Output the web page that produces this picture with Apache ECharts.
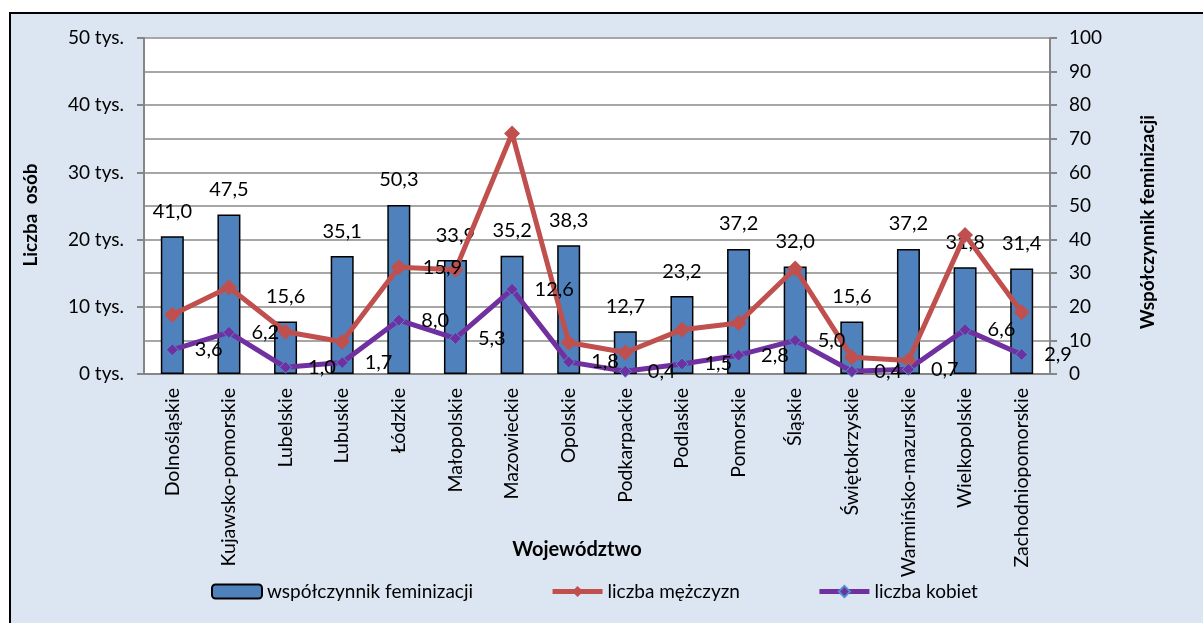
<!DOCTYPE html>
<html>
<head>
<meta charset="utf-8">
<script src="https://cdn.jsdelivr.net/npm/echarts@6/dist/echarts.min.js"></script>
<style>
  html, body { margin: 0; padding: 0; background: #fff; }
  #chart { width: 1203px; height: 623px; }
</style>
</head>
<body>
<div id="chart"></div>
<script>
const regions = ['Dolnośląskie', 'Kujawsko-pomorskie', 'Lubelskie', 'Lubuskie', 'Łódzkie', 'Małopolskie',
  'Mazowieckie', 'Opolskie', 'Podkarpackie', 'Podlaskie', 'Pomorskie', 'Śląskie', 'Świętokrzyskie',
  'Warmińsko-mazurskie', 'Wielkopolskie', 'Zachodniopomorskie']
// współczynnik feminizacji (prawa oś)
const feminization = [41.0, 47.5, 15.6, 35.1, 50.3, 33.9, 35.2, 38.3, 12.7, 23.2, 37.2, 32.0, 15.6, 37.2, 31.8, 31.4]
// liczba mężczyzn, tys.
const men = [8.8, 12.9, 6.3, 4.8, 15.9, 15.5, 35.8, 4.7, 3.2, 6.6, 7.6, 15.7, 2.5, 2.0, 20.7, 9.2]
// liczba kobiet, tys.
const women = [3.6, 6.2, 1.0, 1.7, 8.0, 5.3, 12.6, 1.8, 0.4, 1.5, 2.8, 5.0, 0.4, 0.7, 6.6, 2.9]
const menLabelAt = ['Łódzkie']

const font = 'Lato, "Open Sans", sans-serif'
const fmt = v => v.toFixed(1).replace('.', ',')

const chart = echarts.init(document.getElementById('chart'))
const option = {
  backgroundColor: '#fff',
  textStyle: { fontFamily: font, color: '#000' },
  graphic: [{
    type: 'rect',
    left: 9, top: 12,
    shape: { width: 1220, height: 640 },
    style: { fill: '#DCE6F2', stroke: '#000', lineWidth: 2 },
    z: -10
  }, {
    type: 'rect',
    left: 144, top: 38,
    shape: { width: 906, height: 336 },
    style: { fill: '#fff' },
    z: -9
  }],
  grid: {
    left: 144,
    right: 153,
    top: 38,
    bottom: 249
  },
  legend: {
    top: 577,
    left: 206,
    itemWidth: 50,
    itemHeight: 14,
    itemGap: 77,
    lineStyle: { width: 5 },
    textStyle: { fontSize: 19, fontFamily: font, color: '#000' },
    data: ['współczynnik feminizacji', 'liczba mężczyzn', 'liczba kobiet']
  },
  xAxis: {
    type: 'category',
    data: regions,
    name: 'Województwo',
    nameLocation: 'middle',
    nameGap: 166,
    nameMoveOverlap: false,
    nameTextStyle: { fontWeight: 'bold', fontSize: 20, fontFamily: font, color: '#000', padding: [0, 40, 0, 0] },
    axisLine: { lineStyle: { color: '#868686', width: 2 } },
    axisTick: { length: 6, lineStyle: { color: '#868686', width: 2 } },
    axisLabel: { rotate: 90, margin: 14, fontSize: 19.5, fontFamily: font, color: '#000', interval: 0 }
  },
  yAxis: [{
    type: 'value',
    min: 0,
    max: 50,
    interval: 10,
    name: 'Liczba  osób',
    nameLocation: 'middle',
    nameGap: 104,
    nameRotate: 90,
    nameMoveOverlap: false,
    nameTextStyle: { fontWeight: 'bold', fontSize: 19, fontFamily: font, color: '#000', padding: [0, 18, 0, 0] },
    axisLine: { show: true, lineStyle: { color: '#868686', width: 2 } },
    axisTick: { show: true, length: 7, lineStyle: { color: '#868686', width: 2 } },
    axisLabel: { formatter: '{value} tys.', margin: 20, fontSize: 19, fontFamily: font, color: '#000' },
    splitLine: { show: false }
  }, {
    type: 'value',
    min: 0,
    max: 100,
    interval: 10,
    name: 'Współczynnik feminizacji',
    nameLocation: 'middle',
    nameGap: 88,
    nameRotate: 90,
    nameMoveOverlap: false,
    nameTextStyle: { fontWeight: 'bold', fontSize: 19, fontFamily: font, color: '#000', padding: [0, 32, 0, 0] },
    axisLine: { show: true, lineStyle: { color: '#868686', width: 2 } },
    axisTick: { show: true, length: 7, lineStyle: { color: '#868686', width: 2 } },
    axisLabel: { margin: 19, fontSize: 19, fontFamily: font, color: '#000' },
    splitLine: { show: true, lineStyle: { color: '#A6A6A6', width: 2 } }
  }],
  series: [{
    name: 'współczynnik feminizacji',
    type: 'bar',
    yAxisIndex: 1,
    barWidth: 23,
    itemStyle: { color: '#4F81BD', borderColor: '#000', borderWidth: 1.5 },
    label: {
      show: true,
      position: 'top',
      distance: 15,
      fontSize: 20,
      fontFamily: font,
      color: '#000',
      formatter: p => fmt(p.value)
    },
    data: feminization
  }, {
    name: 'liczba mężczyzn',
    type: 'line',
    yAxisIndex: 0,
    symbol: 'diamond',
    symbolSize: 16,
    lineStyle: { color: '#C0504D', width: 5 },
    itemStyle: { color: '#C0504D' },
    label: {
      position: 'right',
      distance: 16,
      fontSize: 20,
      fontFamily: font,
      color: '#000',
      formatter: p => fmt(p.value)
    },
    data: men.map((v, i) => ({
      value: v,
      label: { show: menLabelAt.includes(regions[i]) }
    }))
  }, {
    name: 'liczba kobiet',
    type: 'line',
    yAxisIndex: 0,
    symbol: 'diamond',
    symbolSize: 12,
    lineStyle: { color: '#7030A0', width: 5 },
    itemStyle: { color: '#7030A0', borderColor: '#4F8FD0', borderWidth: 1 },
    label: {
      show: true,
      position: 'right',
      distance: 16,
      fontSize: 20,
      fontFamily: font,
      color: '#000',
      formatter: p => fmt(p.value)
    },
    data: women
  }]
}
chart.setOption(option)
</script>
</body>
</html>
